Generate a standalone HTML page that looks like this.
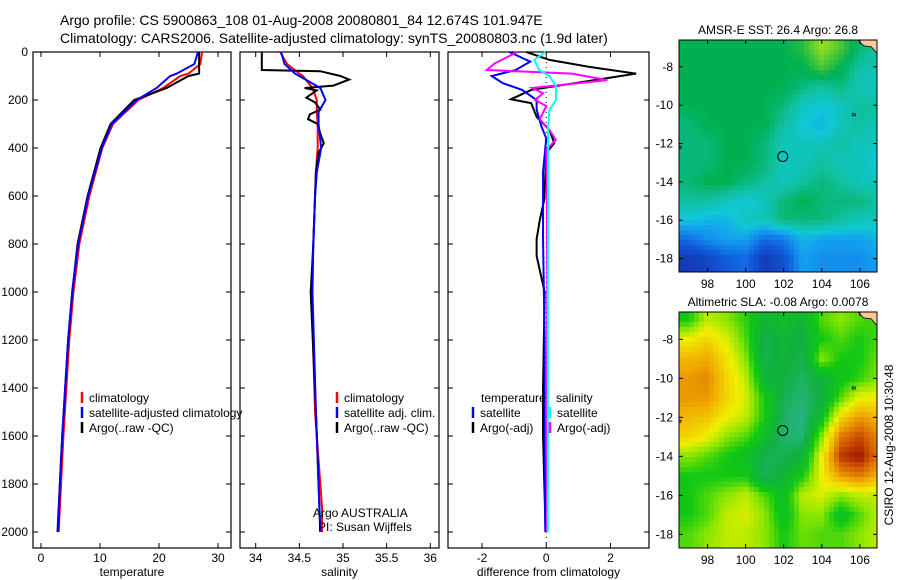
<!DOCTYPE html>
<html><head><meta charset="utf-8">
<style>
body{margin:0;background:#fff;}
svg{display:block;font-family:"Liberation Sans",sans-serif;}
text{fill:#000;}
</style></head>
<body>
<svg id="c" width="900" height="580" viewBox="0 0 900 580">
<defs>
<clipPath id="cp1"><rect x="679" y="40" width="198" height="232"/></clipPath>
<clipPath id="cp2"><rect x="679" y="312" width="198" height="236"/></clipPath>
</defs>
<text x="60" y="25" font-size="14">Argo profile: CS 5900863_108 01-Aug-2008 20080801_84 12.674S 101.947E</text>
<text x="60" y="43" font-size="14">Climatology: CARS2006. Satellite-adjusted climatology: synTS_20080803.nc (1.9d later)</text>
<g id="g"></g>
</svg>
<script>
// ---- profile data ----
const tDepth = [0,50,90,100,150,200,300,400,600,800,1000,1200,1400,1600,1800,2000];
const tClim  = [27.3,27.0,25.0,23.6,20.7,16.5,12.2,10.4,8.2,6.5,5.5,4.8,4.3,3.8,3.4,3.0];
const tSat   = [26.6,26.0,23.0,21.9,19.6,16.2,12.0,10.3,8.0,6.3,5.3,4.6,4.1,3.6,3.2,2.9];
const tArgoD = [0,90,100,150,200,300,400,600,800,1000,1200,1400,1600,1800,2000];
const tArgo  = [26.8,26.8,25.0,21.3,15.8,11.8,10.1,7.9,6.2,5.3,4.6,4.1,3.6,3.2,2.8];
const sDepth = [0,50,90,100,150,200,250,300,400,500,600,800,1000,1500,1900,2000];
const sClim  = [34.28,34.36,34.5,34.54,34.65,34.7,34.7,34.71,34.71,34.69,34.68,34.66,34.64,34.68,34.76,34.76];
const sSat   = [34.29,34.33,34.45,34.5,34.74,34.8,34.72,34.72,34.75,34.7,34.68,34.66,34.65,34.69,34.73,34.74];
const sArgoD = [0,75,80,100,115,140,150,160,190,210,240,260,280,300,340,380,420,500,800,1000,1500,2000];
const sArgo  = [34.07,34.07,34.74,34.97,35.07,34.89,34.56,34.7,34.58,34.68,34.74,34.62,34.6,34.71,34.74,34.78,34.72,34.69,34.66,34.63,34.69,34.74];
const dDepthA = [0,33,62,90,117,158,197,213,270,325,380,420,613,700,780,850,1000,1400,1600,2000];
const dArgoT  = [-0.62,0.1,1.34,2.8,1.5,-0.47,-1.1,-0.47,-0.3,0.1,0.25,0.0,-0.06,-0.2,-0.3,-0.3,-0.05,-0.1,-0.1,-0.02];
const dDepthS = [0,47,75,90,117,150,172,200,225,280,325,366,408,600,1000,1500,2000];
const dArgoS  = [-0.9,-1.6,-1.85,0.8,1.9,-0.44,-0.1,-0.35,0.0,-0.2,0.1,0.3,0.0,0.02,0.03,0.02,0.02];
const dDepthB = [0,40,75,100,130,158,200,240,310,360,500,780,1200,1600,2000];
const dSatT   = [-1.15,-0.5,-0.95,-1.7,-1.35,-0.75,-0.3,-0.3,-0.15,0,-0.1,-0.1,-0.05,-0.05,-0.03];
const dDepthC = [0,33,75,100,142,200,242,310,500,1000,1500,2000];
const dSatS   = [-0.03,-0.37,-0.22,0.1,0.3,0.3,0.1,0.06,0.06,0.05,0.05,0.05];
const depthTicks = [0,200,400,600,800,1000,1200,1400,1600,1800,2000];
const tTicks = [0,10,20,30];
const sTicks = [34,34.5,35,35.5,36];
const dTicks = [-2,0,2];
// ---- map data ----
const mapLons = [97,98,99,100,101,102,103,104,105,106,107];
const mapLats = [-7,-8,-9,-10,-11,-12,-13,-14,-15,-16,-17,-18];
const lonTicks = [98,100,102,104,106];
const latTicks = [-8,-10,-12,-14,-16,-18];
const sst = [
[26.6,26.6,26.6,26.6,26.6,26.6,26.7,27.0,26.8,26.5,26.4],
[26.6,26.6,26.6,26.6,26.6,26.6,26.6,26.8,26.6,26.4,26.3],
[26.6,26.6,26.6,26.6,26.6,26.6,26.5,26.4,26.5,26.3,26.3],
[26.6,26.6,26.6,26.6,26.6,26.5,26.3,26.2,26.3,26.4,26.4],
[26.5,26.6,26.6,26.6,26.6,26.4,26.2,26.1,26.3,26.4,26.3],
[26.5,26.5,26.6,26.6,26.5,26.3,26.3,26.3,26.4,26.3,26.3],
[26.5,26.5,26.6,26.6,26.5,26.3,26.3,26.4,26.3,26.3,26.2],
[26.5,26.6,26.6,26.5,26.4,26.3,26.4,26.5,26.4,26.3,26.3],
[26.4,26.4,26.3,26.2,26.3,26.5,26.6,26.5,26.5,26.5,26.4],
[26.2,26.1,26.1,26.3,26.3,26.5,26.5,26.5,26.4,26.3,26.3],
[25.7,25.9,26.0,26.0,25.7,25.8,26.1,26.0,26.0,26.0,26.1],
[25.3,25.4,25.6,25.7,25.3,25.5,26.0,25.9,25.9,25.9,26.0]];
const sla = [
[0.02,0.08,0.06,0.03,-0.02,0.0,-0.02,0.04,0.06,0.04,0.03],
[0.10,0.12,0.09,0.04,-0.04,-0.02,-0.03,0.02,0.04,0.02,0.04],
[0.14,0.15,0.11,0.06,-0.04,-0.02,-0.04,0.06,0.02,0.02,0.05],
[0.16,0.17,0.12,0.08,-0.02,-0.03,-0.05,-0.02,0.01,0.03,0.06],
[0.16,0.16,0.12,0.09,0.02,-0.04,-0.06,-0.03,0.04,0.10,0.10],
[0.14,0.13,0.10,0.08,0.02,-0.05,-0.07,0.00,0.12,0.16,0.14],
[0.12,0.10,0.06,0.04,0.0,-0.06,-0.06,0.06,0.18,0.21,0.17],
[0.06,0.04,0.02,0.0,-0.04,-0.04,-0.02,0.10,0.22,0.24,0.18],
[0.02,0.02,0.02,0.02,-0.05,-0.02,0.02,0.10,0.16,0.18,0.14],
[0.02,0.04,0.06,0.08,0.04,0.00,0.08,0.09,0.06,0.08,0.08],
[0.02,0.04,0.08,0.09,0.06,0.00,0.06,0.06,0.00,0.04,0.08],
[0.04,0.06,0.08,0.08,0.06,0.02,0.05,0.04,0.04,0.06,0.08]];

const NS='http://www.w3.org/2000/svg';
const G=document.getElementById('g');
function mk(tag,attrs,parent){const e=document.createElementNS(NS,tag);for(const k in attrs)e.setAttribute(k,attrs[k]);(parent||G).appendChild(e);return e;}
const yD = d => 52 + d*48/200;
function panel(x0,x1,lo,hi,ticks,label,name,showY){
  const sx = v => x0 + (v-lo)/(hi-lo)*(x1-x0);
  const fr=mk('rect',{x:x0,y:52,width:x1-x0,height:496,fill:'none',stroke:'#000','stroke-width':1.2});
  
  
  ticks.forEach(t=>{const x=sx(t);
    mk('line',{x1:x,x2:x,y1:548,y2:543,stroke:'#000'});mk('line',{x1:x,x2:x,y1:52,y2:57,stroke:'#000'});
    const tx=mk('text',{x:x,y:562,'font-size':12,'text-anchor':'middle'});tx.textContent=t;
    
    });
  depthTicks.forEach(d=>{const y=yD(d);
    mk('line',{x1:x0,x2:x0+5,y1:y,y2:y,stroke:'#000'});mk('line',{x1:x1,x2:x1-5,y1:y,y2:y,stroke:'#000'});
    if(showY){const tx=mk('text',{x:x0-5,y:y+4,'font-size':12,'text-anchor':'end'});tx.textContent=d;
      
      }});
  const l=mk('text',{x:(x0+x1)/2,y:576,'font-size':12,'text-anchor':'middle'});l.textContent=label;
  
  
  return sx;
}
function line(sx,ds,vs,color,name,w){
  const p=mk('polyline',{points:ds.map((d,i)=>sx(vs[i])+','+yD(d)).join(' '),fill:'none',stroke:color,'stroke-width':w||2});
  
  
}
function legend(x,y,color,txt,name){
  mk('line',{x1:x,x2:x,y1:y-10,y2:y+1,stroke:color,'stroke-width':2.5});
  const t=mk('text',{x:x+7,y:y,'font-size':12});t.textContent=txt;
  
  
}
const sT=panel(33,231,-1.35,32.2,tTicks,'temperature','temperature-panel',true);
line(sT,tDepth,tClim,'#f00','temp-climatology-line');
line(sT,tArgoD,tArgo,'#000','temp-argo-line');
line(sT,tDepth,tSat,'#00f','temp-satellite-line');
legend(82,402,'#f00','climatology','legend-climatology');
legend(82,417,'#00f','satellite-adjusted climatology','legend-satellite');
legend(82,432,'#000','Argo(..raw -QC)','legend-argo');
const sS=panel(240,439,33.82,36.1,sTicks,'salinity','salinity-panel',false);
line(sS,sDepth,sClim,'#f00','sal-climatology-line');
line(sS,sArgoD,sArgo,'#000','sal-argo-line');
line(sS,sDepth,sSat,'#00f','sal-satellite-line');
legend(337,402,'#f00','climatology','legend-sal-climatology');
legend(337,417,'#00f','satellite adj. clim.','legend-sal-satellite');
legend(337,432,'#000','Argo(..raw -QC)','legend-sal-argo');
{const a=mk('text',{x:313,y:517,'font-size':12});a.textContent='Argo AUSTRALIA';


const b=mk('text',{x:318,y:531,'font-size':12});b.textContent='PI: Susan Wijffels';

}
const sD=panel(448,649,-3.06,3.2,dTicks,'difference from climatology','difference-panel',false);
mk('line',{x1:sD(0),x2:sD(0),y1:52,y2:548,stroke:'#000','stroke-dasharray':'1,4'});
line(sD,dDepthA,dArgoT,'#000','diff-temp-argo-line');
line(sD,dDepthB,dSatT,'#00f','diff-temp-satellite-line');
line(sD,dDepthS,dArgoS,'#f0f','diff-sal-argo-line');
line(sD,dDepthC,dSatS,'#0ff','diff-sal-satellite-line');
{const t=mk('text',{x:481,y:402,'font-size':12});t.textContent='temperature';


const s=mk('text',{x:556,y:402,'font-size':12});s.textContent='salinity';

}
legend(473,417,'#00f','satellite','legend-diff-temp-sat');
legend(473,432,'#000','Argo(-adj)','legend-diff-temp-argo');
legend(550,417,'#0ff','satellite','legend-diff-sal-sat');
legend(550,432,'#f0f','Argo(-adj)','legend-diff-sal-argo');

function rgb(c){return 'rgb('+c.join(',')+')';}
function lerpCol(stops,v){
  if(v<=stops[0][0])return rgb(stops[0][1]);
  for(let i=1;i<stops.length;i++){if(v<=stops[i][0]){const a=stops[i-1],b=stops[i],f=(v-a[0])/(b[0]-a[0]);
    return rgb([0,1,2].map(k=>Math.round(a[1][k]+(b[1][k]-a[1][k])*f)));}}
  return rgb(stops[stops.length-1][1]);
}
const sstStops=[[25.2,[20,50,170]],[25.6,[16,90,220]],[26.0,[20,160,240]],[26.2,[16,200,216]],[26.4,[16,192,160]],[26.6,[0,176,80]],[27.0,[150,224,32]]];
const slaStops=[[-0.07,[40,180,130]],[-0.03,[16,176,64]],[0.02,[16,200,20]],[0.06,[140,230,0]],[0.1,[240,240,0]],[0.15,[240,170,0]],[0.2,[210,90,0]],[0.24,[160,20,0]]];
function interp(grid,lon,lat){
  // bilinear interpolation between grid centres (clamped)
  let fc=Math.min(Math.max(lon-mapLons[0],0),mapLons.length-1);
  let fr=Math.min(Math.max(mapLats[0]-lat,0),mapLats.length-1);
  const c0=Math.min(Math.floor(fc),mapLons.length-2),r0=Math.min(Math.floor(fr),mapLats.length-2);
  const u=fc-c0,w=fr-r0;
  return grid[r0][c0]*(1-u)*(1-w)+grid[r0][c0+1]*u*(1-w)+grid[r0+1][c0]*(1-u)*w+grid[r0+1][c0+1]*u*w;
}
function map(y0,y1,grid,stops,title,name,latTop,latBot){
  const x0=679,x1=877,lonL=96.5,lonR=106.9;
  const sx=v=>x0+(v-lonL)/(lonR-lonL)*(x1-x0);
  const sy=v=>y0+(latTop-v)/(latTop-latBot)*(y1-y0);
  const ix=px=>lonL+(px-x0)/(x1-x0)*(lonR-lonL);
  const iy=py=>latTop-(py-y0)/(y1-y0)*(latTop-latBot);
  const outer=mk('g',{'clip-path':'url(#'+(name==='sst-map'?'cp1':'cp2')+')'});
  
  
  const step=5;
  for(let py=y0;py<y1;py+=step){for(let px=x0;px<x1;px+=step){
    const v=interp(grid,ix(px+step/2),iy(py+step/2));
    const e=mk('rect',{x:px,y:py,width:step+0.6,height:step+0.6,fill:lerpCol(stops,v)},outer);
    
    
  }}
  mk('path',{d:`M${sx(105.9)},${y0} L${sx(106.2)},${sy(latTop-0.3)} L${sx(106.6)},${sy(latTop-0.35)} L${sx(106.9)},${sy(latTop-0.7)} L${x1},${y0} Z`,fill:'#ffc896',stroke:'#000','stroke-width':0.8},outer);
  mk('rect',{x:sx(105.6),y:sy(-10.5)-1,width:3,height:2,fill:'none',stroke:'#000','stroke-width':0.8});
  mk('rect',{x:x0,y:sy(-12.2)-1,width:2,height:2,fill:'none',stroke:'#000','stroke-width':0.8});
  const c=mk('circle',{cx:sx(101.95),cy:sy(-12.674),r:5,fill:'none',stroke:'#000','stroke-width':1});
  
  
  mk('rect',{x:x0,y:y0,width:x1-x0,height:y1-y0,fill:'none',stroke:'#000','stroke-width':1});
  lonTicks.forEach(t=>{const x=sx(t);mk('line',{x1:x,x2:x,y1:y1,y2:y1-4,stroke:'#000'});mk('line',{x1:x,x2:x,y1:y0,y2:y0+4,stroke:'#000'});
    const tx=mk('text',{x:x,y:y1+16,'font-size':12,'text-anchor':'middle'});tx.textContent=t;
    
    });
  latTicks.forEach(t=>{const y=sy(t);mk('line',{x1:x0,x2:x0+4,y1:y,y2:y,stroke:'#000'});mk('line',{x1:x1,x2:x1-4,y1:y,y2:y,stroke:'#000'});
    const tx=mk('text',{x:x0-6,y:y+4,'font-size':12,'text-anchor':'end'});tx.textContent=t;
    
    });
  const tt=mk('text',{x:(x0+x1)/2,y:y0-6,'font-size':12,'text-anchor':'middle'});tt.textContent=title;
  
  
}
map(40,272,sst,sstStops,'AMSR-E SST: 26.4 Argo: 26.8','sst-map',-6.6,-18.7);
map(312,548,sla,slaStops,'Altimetric SLA: -0.08 Argo: 0.0078','sla-map',-6.6,-18.7);
{const r=mk('text',{x:0,y:0,'font-size':12,'text-anchor':'middle',transform:'translate(893,445) rotate(-90)'});r.textContent='CSIRO 12-Aug-2008 10:30:48';

}
</script>
</body></html>
